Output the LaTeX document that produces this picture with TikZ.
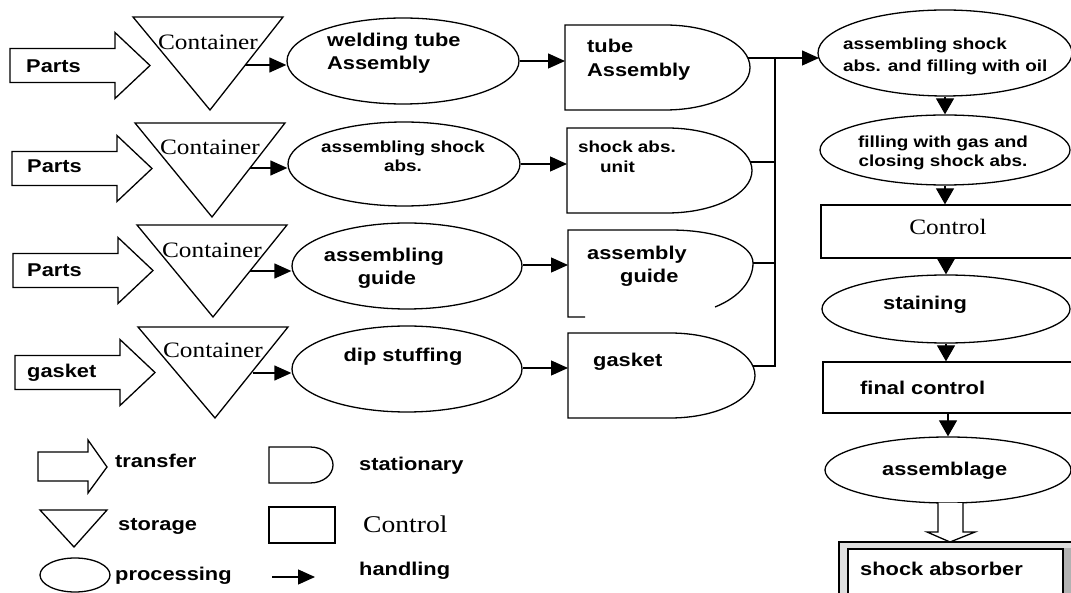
\documentclass[tikz,border=0pt]{standalone}
\usepackage{fontspec}
\newfontfamily\sfb[FakeStretch=1.18]{Liberation Sans}
\newfontfamily\serf[FakeStretch=1.15]{Liberation Serif}
\usetikzlibrary{arrows.meta,shapes.geometric}
\begin{document}
\begin{tikzpicture}[x=1pt,y=-1pt,line join=miter,
  ln/.style={line width=1.3pt},
  proc/.style={draw,ellipse,line width=1.3pt,inner sep=0pt},
  box/.style={draw,rectangle,line width=1.3pt,inner sep=0pt},
  hand/.style={line width=1.3pt,-{Triangle[length=17pt,width=15pt]}},
  vhand/.style={line width=1.3pt,-{Triangle[length=16pt,width=18pt]}},
  big/.style={font=\sfb\bfseries\fontsize{18.5}{22}\selectfont,inner sep=0pt,anchor=base west},
  bigc/.style={font=\sfb\bfseries\fontsize{18.5}{22}\selectfont,inner sep=0pt,anchor=base},
  small/.style={font=\sfb\bfseries\fontsize{16}{19}\selectfont,inner sep=0pt,anchor=base west},
  smallc/.style={font=\sfb\bfseries\fontsize{16}{19}\selectfont,inner sep=0pt,anchor=base},
  cont/.style={font=\serf\fontsize{22}{24}\selectfont,inner sep=0pt,anchor=base},
  barrow/.pic={\draw[ln] (0,-17)--(105,-17)--(105,-33)--(140,0)--(105,33)--(105,17)--(0,17)--cycle;}
]
\useasboundingbox (0,0) rectangle (1071,593);

% ---------- Row 1 ----------
\pic at (10,65.5) {barrow};
\node[big] (p1) at (26,73) {Parts};
\draw[ln] (133,17)--(283,17)--(210,110)--cycle;
\node[cont] (c1) at (208,50) {Container};
\coordinate (t1) at (245,65);
\node[proc,minimum width=232pt,minimum height=86pt] (e1) at (403,61) {};
\node[big] (e1a) at (327,47) {welding tube};
\node[big] (e1b) at (327,70) {Assembly};
\draw[ln] (565,25)--(665,25) .. controls (712,25) and (750,44) .. (750,67.5)
  .. controls (750,91) and (712,110) .. (665,110) -- (565,110) -- cycle;
\coordinate (s1in) at (565,61);
\coordinate (s1out) at (748,58);
\node[big] (s1a) at (587,53) {tube};
\node[big] (s1b) at (587,77) {Assembly};
\draw[hand] (t1) -- (t1 -| e1.west);
\draw[hand] (e1.east) -- (s1in);

% ---------- Row 2 ----------
\pic at (12,168.5) {barrow};
\node[big] (p2) at (27,173) {Parts};
\draw[ln] (135,123)--(285,123)--(212,217)--cycle;
\node[cont] (c2) at (210,155) {Container};
\coordinate (t2) at (250,168);
\node[proc,minimum width=232pt,minimum height=84pt] (e2) at (404,164) {};
\node[smallc] (e2a) at (403,153) {assembling shock};
\node[smallc] (e2b) at (403,172) {abs.};
\draw[ln] (567,128)--(667,128) .. controls (714,128) and (752,147) .. (752,170.5)
  .. controls (752,194) and (714,213) .. (667,213) -- (567,213) -- cycle;
\coordinate (s2in) at (567,164);
\coordinate (s2out) at (750,162);
\node[small] (s2a) at (578,153) {shock abs.};
\node[small] (s2b) at (600,173) {unit};
\draw[hand] (t2) -- (t2 -| e2.west);
\draw[hand] (e2.east) -- (s2in);

% ---------- Row 3 ----------
\pic at (13,270.5) {barrow};
\node[big] (p3) at (27,277) {Parts};
\draw[ln] (137,225)--(287,225)--(213,317)--cycle;
\node[cont] (c3) at (212,258) {Container};
\coordinate (t3) at (250,271);
\node[proc,minimum width=230pt,minimum height=86pt] (e3) at (407,266) {};
\node[bigc] (e3a) at (384,262) {assembling};
\node[bigc] (e3b) at (387,285) {guide};
\draw[ln] (585,317)--(568,317)--(568,230)--(670,230) .. controls (720,230) and (753,245) .. (753,263)
  .. controls (753,280) and (740,297) .. (715,307);
\coordinate (s3in) at (568,265);
\coordinate (s3out) at (753,263);
\node[big] (s3a) at (587,260) {assembly};
\node[big] (s3b) at (620,283) {guide};
\draw[hand] (t3) -- (t3 -| e3.west);
\draw[hand] (e3.east |- s3in) -- (s3in);

% ---------- Row 4 ----------
\pic at (15,372.5) {barrow};
\node[big] (p4) at (27,378) {gasket};
\draw[ln] (138,327)--(288,327)--(215,418)--cycle;
\node[cont] (c4) at (213,358) {Container};
\coordinate (t4) at (253,373);
\node[proc,minimum width=230pt,minimum height=86pt] (e4) at (407,369) {};
\node[bigc] (e4a) at (403,362) {dip stuffing};
\draw[ln] (568,333)--(670,333) .. controls (717,333) and (755,352) .. (755,375.5)
  .. controls (755,399) and (717,418) .. (670,418) -- (568,418) -- cycle;
\coordinate (s4in) at (568,368);
\coordinate (s4out) at (753,366);
\node[big] (s4a) at (593,367) {gasket};
\draw[hand] (t4) -- (t4 -| e4.west);
\draw[hand] (e4.east |- s4in) -- (s4in);

% ---------- collector ----------
\coordinate (j1) at (775,58);
\coordinate (j4) at (775,366);
\draw[ln] (s1out) -- (j1) -- (j4) -- (s4out);
\draw[ln] (s2out) -- (s2out -| j1);
\draw[ln] (s3out) -- (s3out -| j1);

% ---------- Right column ----------
\node[proc,minimum width=254pt,minimum height=86pt] (eA) at (945,53) {};
\node[small] (eAa) at (843,50) {assembling shock};
\node[small] (eAb) at (843,72) {abs. and filling with oil};
\draw[hand] (j1) -- (819,58);

\node[proc,minimum width=250pt,minimum height=70pt] (eB) at (945,150) {};
\node[smallc] (eBa) at (943,148) {filling with gas and};
\node[smallc] (eBb) at (943,167) {closing shock abs.};

\node[box,minimum width=259pt,minimum height=53pt] (ct) at (950.5,231.5) {};
\node[cont] (cta) at (948,235) {Control};

\node[proc,minimum width=248pt,minimum height=68pt] (eS) at (946,309) {};
\node[big] (eSa) at (883,310) {staining};

\node[box,minimum width=257pt,minimum height=51pt] (fc) at (951.5,387.5) {};
\node[big] (fca) at (860,395) {final control};

\node[proc,minimum width=246pt,minimum height=66pt] (eT) at (948,470) {};
\node[big] (eTa) at (882,475) {assemblage};

\draw[vhand] (eA.south) -- (eB.north);
\draw[vhand] (eB.south) -- (eB.south |- ct.north);
\draw[vhand] (946,258) -- (eS.north);
\draw[vhand] (eS.south) -- (eS.south |- fc.north);
\draw[vhand] (948,413) -- (eT.north);

% hollow transfer arrow down
\draw[ln,fill=white] (938,503)--(938,532)--(927,532)--(950,542)--(975,532)--(963,532)--(963,503);

% shock absorber box
\fill[gray!25] (839,542) rectangle (1071,600);
\fill[gray!60] (1063,548) rectangle (1071,600);
\draw[ln] (839,542) rectangle (1075,600);
\draw[ln,fill=white] (848,549) rectangle (1063,600);
\node[big] (sa) at (860,575) {shock absorber};

% ---------- Legend ----------
\draw[ln] (38,452)--(88,452)--(88,440)--(107,467)--(88,493)--(88,481)--(38,481)--cycle;
\node[big] (lg1) at (115,467) {transfer};
\draw[ln] (40,510)--(107,510)--(74,547)--cycle;
\node[big] (lg2) at (118,530) {storage};
\node[proc,minimum width=70pt,minimum height=34pt] (lge) at (75,575) {};
\node[big] (lg3) at (115,580) {processing};
\draw[ln] (269,447)--(310,447) .. controls (323,447) and (333,455) .. (333,465)
  .. controls (333,475) and (323,483) .. (310,483) -- (269,483) -- cycle;
\node[big] (lg4) at (359,470) {stationary};
\node[box,minimum width=66pt,minimum height=36pt] (lgc) at (302,525) {};
\node[cont,anchor=base west,font=\serf\fontsize{24}{26}\selectfont] (lg5) at (363,532) {Control};
\coordinate (h1) at (272,577);
\coordinate (h2) at (315,577);
\draw[hand] (h1) -- (h2);
\node[big] (lg6) at (359,575) {handling};
\end{tikzpicture}
\end{document}
